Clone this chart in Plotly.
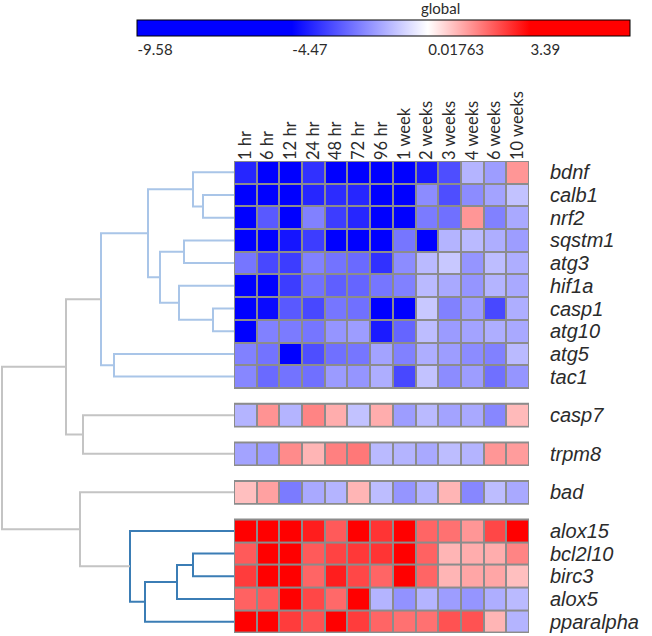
import plotly.graph_objects as go
import numpy as np

# ---------------- data ----------------
columns = ["1 hr", "6 hr", "12 hr", "24 hr", "48 hr", "72 hr", "96 hr",
           "1 week", "2 weeks", "3 weeks", "4 weeks", "6 weeks", "10 weeks"]

genes = ["bdnf", "calb1", "nrf2", "sqstm1", "atg3", "hif1a", "casp1", "atg10",
         "atg5", "tac1", "casp7", "trpm8", "bad", "alox15", "bcl2l10", "birc3",
         "alox5", "pparalpha"]

block_sizes = [10, 1, 1, 1, 5]

bdnf      = [-3.8, -6.9, -7.4, -3.6, -9.58, -7.8, -8.1, -6.6, -4.0, -3.1, -1.3, -1.7, 1.4]
calb1     = [-6.2, -7.0, -6.5, -3.8, -3.7, -3.8, -7.2, -6.8, -2.0, -3.1, -2.0, -1.6, -1.05]
nrf2      = [-7.1, -2.9, -6.0, -2.2, -3.4, -3.8, -7.5, -6.3, -2.3, -2.5, 1.4, -2.2, -1.5]
sqstm1    = [-6.5, -6.9, -4.1, -3.4, -8.2, -7.7, -6.8, -2.4, -4.5, -1.3, -1.2, -1.4, -1.7]
atg3      = [-2.4, -3.2, -3.4, -2.2, -2.45, -2.6, -3.6, -2.0, -1.2, -0.95, -1.85, -1.15, -1.4]
hif1a     = [-6.6, -5.8, -3.4, -2.5, -2.8, -2.7, -2.4, -2.2, -1.2, -1.5, -1.85, -1.3, -1.5]
casp1     = [-6.0, -4.3, -2.9, -3.2, -2.4, -2.5, -7.0, -6.4, -0.95, -2.2, -1.7, -3.2, -1.4]
atg10     = [-5.7, -2.2, -2.3, -2.4, -1.85, -1.7, -4.0, -2.7, -1.15, -1.75, -1.6, -1.4, -1.5]
atg5      = [-2.2, -2.45, -7.3, -3.1, -2.5, -2.4, -1.6, -2.2, -1.4, -1.7, -2.0, -2.2, -1.2]
tac1      = [-2.1, -2.6, -2.45, -2.5, -1.75, -1.85, -1.4, -3.2, -1.05, -2.0, -1.7, -2.5, -1.85]
casp7     = [-1.3, 1.45, -1.3, 1.65, 1.1, -1.05, 1.1, -1.7, -1.2, -1.6, -1.5, -2.1, 0.93]
trpm8     = [-1.6, -1.75, 1.55, 1.0, 1.7, 1.8, -1.2, -1.3, -1.5, -1.15, -1.3, 1.4, 1.33]
bad       = [0.86, 1.26, -2.3, -1.5, -1.3, 1.0, -1.15, -1.85, -1.3, 1.0, -2.1, -1.15, -1.5]
alox15    = [4.2, 4.5, 3.9, 3.0, 2.2, 4.8, 2.7, 5.1, 2.05, 1.9, 1.4, 2.45, 4.0]
bcl2l10   = [2.2, 4.3, 4.6, 2.2, 2.5, 2.65, 2.7, 6.69, 2.1, 1.0, 1.1, 1.1, 1.65]
birc3     = [2.6, 4.0, 4.4, 2.05, 3.0, 2.45, 2.05, 3.8, 2.05, 1.0, 1.2, 1.2, 0.86]
alox5     = [2.1, 2.2, 4.1, 2.45, 2.0, 5.3, -1.3, -1.9, -1.3, -1.7, -1.85, -1.4, -1.2]
pparalpha = [4.0, 4.4, 2.6, 2.3, 3.9, 2.6, 2.05, 1.9, 1.9, 2.3, 2.3, 1.0, -1.3]

gene_values = [bdnf, calb1, nrf2, sqstm1, atg3, hif1a, casp1, atg10, atg5, tac1,
               casp7, trpm8, bad, alox15, bcl2l10, birc3, alox5, pparalpha]

# colour scale anchors
scale_min = -9.58
scale_max = 6.69
scale_ticks = [-9.58, -4.47, 0.01763, 3.39]
scale_ticktext = ["-9.58", "-4.47", "0.01763", "3.39"]

# dendrogram merges: (child a, child b, distance, colour group); leaves 0..17
merges = [
    (1, 2, 31, "lb"), (0, 18, 41, "lb"), (3, 4, 50, "lb"), (6, 7, 21, "lb"),
    (5, 21, 55, "lb"), (20, 22, 74, "lb"), (19, 23, 86, "lb"), (8, 9, 120, "lb"),
    (24, 25, 133, "lb"), (10, 11, 151, "gr"), (26, 27, 168, "gr"),
    (14, 15, 41, "db"), (29, 16, 57, "db"), (30, 17, 89, "db"), (13, 31, 104, "db"),
    (12, 32, 154, "gr"), (28, 33, 232, "gr"),
]
group_colors = {"lb": "#a9c5e8", "gr": "#c4c4c4", "db": "#3b7db5"}

# ---------------- layout helpers ----------------
W, H = 652, 636
block_gap = 0.7
starts = []
pos = 0.0
for n in block_sizes:
    starts.append(pos)
    pos += n + block_gap
total_rows = pos - block_gap

row_centers = []
for s, n in zip(starts, block_sizes):
    row_centers += [s + i + 0.5 for i in range(n)]

colorscale = [
    [0.0, "#0000ff"],
    [(scale_ticks[1] - scale_min) / (scale_max - scale_min), "#0000ff"],
    [(scale_ticks[2] - scale_min) / (scale_max - scale_min), "#ffffff"],
    [(scale_ticks[3] - scale_min) / (scale_max - scale_min), "#ff0000"],
    [1.0, "#ff0000"],
]

FONT = "Lato"
TXT = "#2b2b2b"

fig = go.Figure()
border = "#8c8c8c"
shapes = []
idx = 0
x_edges = np.arange(len(columns) + 1) - 0.5
for s, n in zip(starts, block_sizes):
    z = gene_values[idx: idx + n]
    idx += n
    fig.add_trace(go.Heatmap(
        z=z, x=x_edges, y=s + np.arange(n + 1),
        coloraxis="coloraxis", xgap=2, ygap=2, hoverinfo="skip",
    ))
    shapes.append(dict(type="rect", xref="x", yref="y", layer="below",
                       x0=x_edges[0], x1=x_edges[-1], y0=s, y1=s + n,
                       fillcolor=border, line=dict(color=border, width=2)))

# dendrogram
node_y = list(row_centers)
node_h = [0.0] * len(genes)
for a, b, h, g in merges:
    col = group_colors[g]
    xs = [node_h[a], h, h, node_h[b]]
    ys = [node_y[a], node_y[a], node_y[b], node_y[b]]
    fig.add_trace(go.Scatter(x=xs, y=ys, mode="lines", xaxis="x2", yaxis="y",
                             line=dict(color=col, width=2), hoverinfo="skip",
                             showlegend=False))
    node_y.append((node_y[a] + node_y[b]) / 2)
    node_h.append(h)

heat_left, heat_right = 234, 529
heat_top, heat_bottom = 161, 633

fig.update_layout(
    width=W, height=H, autosize=False,
    margin=dict(l=0, r=0, t=0, b=0, autoexpand=False),
    paper_bgcolor="white", plot_bgcolor="white",
    showlegend=False,
    font=dict(family=FONT, color=TXT),
    shapes=shapes,
    xaxis=dict(domain=[heat_left / W, heat_right / W], range=[-0.5, len(columns) - 0.5],
               side="top", tickmode="array", tickvals=list(range(len(columns))),
               ticktext=columns, tickangle=-90, tickfont=dict(size=16.5, color=TXT),
               showgrid=False, zeroline=False, showline=False, ticks="",
               automargin=False),
    yaxis=dict(domain=[(H - heat_bottom) / H, (H - heat_top) / H],
               range=[total_rows, 0], side="right", tickmode="array",
               tickvals=row_centers, ticktext=genes,
               tickfont=dict(size=20, style="italic", color=TXT,
                             family="Liberation Sans"),
               ticks="outside", ticklen=16, tickcolor="rgba(0,0,0,0)",
               showgrid=False, zeroline=False, showline=False, automargin=False),
    xaxis2=dict(domain=[0, heat_left / W], range=[heat_left, 0], anchor="y",
                visible=False, showgrid=False, zeroline=False),
    coloraxis=dict(
        colorscale=colorscale, cmin=scale_min, cmax=scale_max,
        colorbar=dict(
            orientation="h", x=(137 + 630) / 2 / W, xanchor="center",
            y=1 - 20 / H, yanchor="top", lenmode="pixels", len=493,
            thicknessmode="pixels", thickness=16, outlinecolor="black",
            outlinewidth=1, tickmode="array", tickvals=scale_ticks,
            ticktext=scale_ticktext, ticks="", xpad=0, ypad=0,
            ticklabelposition="outside right",
            tickfont=dict(size=15, color=TXT, family=FONT),
        ),
    ),
    annotations=[dict(text="global", x=440 / W, y=1 - 8 / H, xref="paper", yref="paper",
                      xanchor="center", yanchor="middle", showarrow=False,
                      font=dict(size=15, color=TXT, family=FONT))],
)

fig.write_html("out.html", config={"displayModeBar": False},
               post_script="document.body.style.margin='0';")
